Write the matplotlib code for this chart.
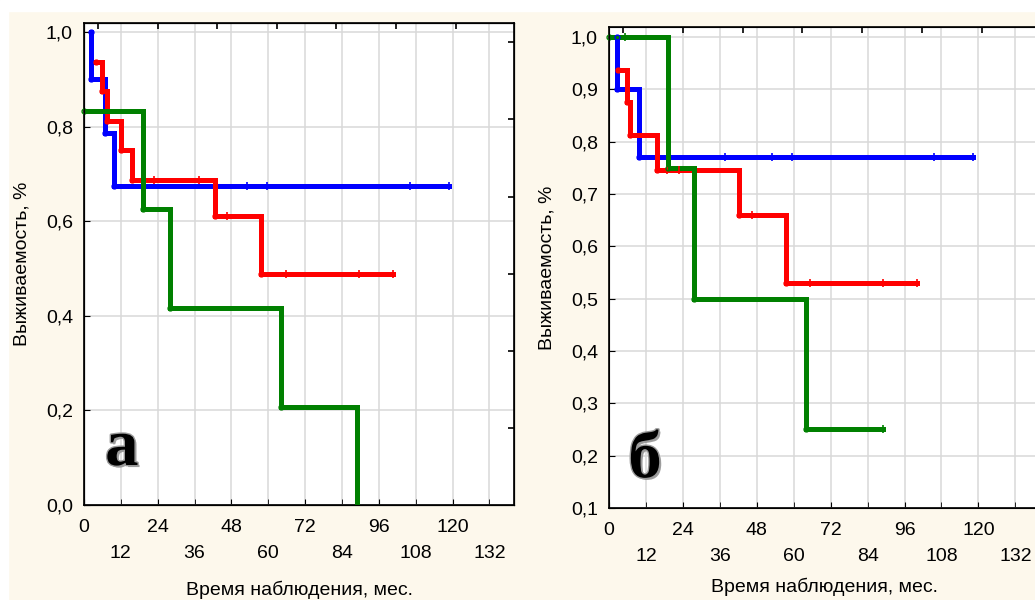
import numpy as np
import matplotlib
matplotlib.use('Agg')
import matplotlib.pyplot as plt
import matplotlib.patheffects as pe
from matplotlib.patches import Rectangle

plt.rcParams['font.family'] = ['Liberation Sans', 'DejaVu Sans']

# ---- data (months, survival) ----
# panel a
blue_a_t = [2.3, 2.3, 6.8, 9.8, 118.8]
blue_a_s = [1.0, 0.9, 0.7875, 0.675, 0.675]
blue_a_cens = [53.0, 59.6, 106.0, 118.8]

red_a_t = [3.8, 5.8, 7.4, 12.0, 15.7, 42.5, 57.7, 100.6]
red_a_s = [0.9375, 0.875, 0.8125, 0.75, 0.6875, 0.611, 0.489, 0.489]
red_a_cens = [22.9, 37.6, 46.4, 65.8, 89.6, 100.6]

green_a_t = [0.0, 19.3, 28.0, 64.2, 88.9]
green_a_s = [0.833, 0.625, 0.417, 0.208, 0.0]
green_a_cens = []

# panel b
blue_b_t = [2.6, 2.6, 9.8, 118.3]
blue_b_s = [1.0, 0.9, 0.771, 0.771]
blue_b_cens = [37.7, 53.0, 59.5, 105.7, 118.3]

red_b_t = [2.9, 5.8, 6.8, 15.6, 42.3, 57.5, 100.1]
red_b_s = [0.9375, 0.875, 0.8125, 0.745, 0.66, 0.53, 0.53]
red_b_cens = [18.9, 22.8, 46.5, 65.3, 89.1, 100.1]

green_b_t = [0.0, 19.2, 27.6, 64.0, 89.0]
green_b_s = [1.0, 0.75, 0.5, 0.25, 0.25]
green_b_cens = [5.2, 89.0]

xlabel = 'Время наблюдения, мес.'
ylabel = 'Выживаемость, %'

cream = '#fdf8ec'
colors = {'blue': '#0000ff', 'red': '#ff0000', 'green': '#008000'}


def level_at(t, s, x):
    # survival value of a step curve at time x
    idx = np.searchsorted(np.array(t), x, side='right') - 1
    idx = max(0, min(idx, len(s) - 1))
    return s[idx]


def draw_curve(ax, t, s, cens, col):
    ax.plot(t, s, drawstyle='steps-post', color=col, lw=3.6,
            solid_joinstyle='miter', zorder=3)
    # event points (hollow circles)
    ax.plot(t[:-1], s[:-1], 'o', ms=3.5, mfc='none', mec=col, mew=1,
            zorder=4, clip_on=False)
    if cens:
        cy = [level_at(t, s, c) for c in cens]
        ax.plot(cens, cy, '|', ms=6, mew=1.2, color=col, zorder=4)


def style_axes(ax, ylo, ystep, ylab_fmt, xpad):
    ax.set_facecolor('white')
    ax.set_xlim(0, 140)
    ax.set_xticks(np.arange(0, 133, 24))
    ax.set_xticks(np.arange(12, 133, 24), minor=True)
    ax.set_xticklabels([str(v) for v in np.arange(0, 133, 24)])
    ax.set_xticklabels([str(v) for v in np.arange(12, 133, 24)], minor=True)
    yt = np.round(np.arange(ylo, 1.0001, ystep), 2)
    ax.set_yticks(yt)
    ax.set_yticklabels([ylab_fmt.format(v).replace('.', ',') for v in yt])
    ax.grid(True, which='both', color='#d9d9d9', lw=1.1, zorder=0)
    ax.tick_params(axis='x', which='major', direction='in', length=4,
                   pad=10, labelsize=14, color='black')
    ax.tick_params(axis='x', which='minor', direction='in', length=4,
                   pad=29, labelsize=14, color='black')
    ax.tick_params(axis='y', direction='in', length=4, pad=8, labelsize=14)
    for sp in ax.spines.values():
        sp.set_linewidth(1.2)
        sp.set_color('black')
    ax.set_xlabel(xlabel, fontsize=14, labelpad=xpad)
    ax.set_ylabel(ylabel, fontsize=14, labelpad=11)
    # top ticks of second scale (inside)
    top = ax.twiny()
    top.set_xlim(ax.get_xlim())
    top.set_xticks(4.6 + 19.4 * np.arange(7))
    top.tick_params(axis='x', direction='in', length=4, labeltop=False,
                    width=1.2)
    top.grid(False)


fig = plt.figure(figsize=(10.35, 6), dpi=100)
fig.patch.set_facecolor(cream)
fig.patches.append(Rectangle((0, 1 - 11 / 600), 1, 11 / 600,
                             transform=fig.transFigure, color='white',
                             zorder=-1))
fig.patches.append(Rectangle((0, 0), 8 / 1035, 1,
                             transform=fig.transFigure, color='white',
                             zorder=-1))

ax1 = fig.add_axes([84 / 1035, 95 / 600, 430 / 1035, 482 / 600])
ax2 = fig.add_axes([609 / 1035, 92 / 600, 431 / 1035, 481 / 600])

style_axes(ax1, 0.0, 0.2, '{:.1f}', 13)
ax1.set_ylim(0, 1.019)
style_axes(ax2, 0.1, 0.1, '{:.1f}', 9)
ax2.set_ylim(0.1, 1.019)

# right spine ticks of left panel
rt = ax1.twinx()
rt.set_ylim(ax1.get_ylim())
rt.set_yticks(0.163 * np.arange(1, 7))
rt.tick_params(axis='y', direction='in', length=4, labelright=False, width=1.2)

draw_curve(ax1, blue_a_t, blue_a_s, blue_a_cens, colors['blue'])
draw_curve(ax1, red_a_t, red_a_s, red_a_cens, colors['red'])
draw_curve(ax1, green_a_t, green_a_s, green_a_cens, colors['green'])

draw_curve(ax2, blue_b_t, blue_b_s, blue_b_cens, colors['blue'])
draw_curve(ax2, red_b_t, red_b_s, red_b_cens, colors['red'])
draw_curve(ax2, green_b_t, green_b_s, green_b_cens, colors['green'])

shadow = [pe.withSimplePatchShadow(offset=(1.5, -1.5), shadow_rgbFace='#888888', alpha=0.8),
          pe.withStroke(linewidth=2, foreground='#9a9a9a')]
ax1.text(0.088, 0.083, 'а', transform=ax1.transAxes, ha='center',
         va='baseline', fontsize=48, fontweight='bold',
         family=['Liberation Serif', 'DejaVu Serif'], color='black',
         path_effects=shadow, zorder=5)
ax2.text(0.0835, 0.064, 'б', transform=ax2.transAxes, ha='center',
         va='baseline', fontsize=48, fontweight='bold',
         family=['Liberation Serif', 'DejaVu Serif'], color='black',
         path_effects=shadow, zorder=5)

fig.savefig('out.png', dpi=100, facecolor=fig.get_facecolor())
